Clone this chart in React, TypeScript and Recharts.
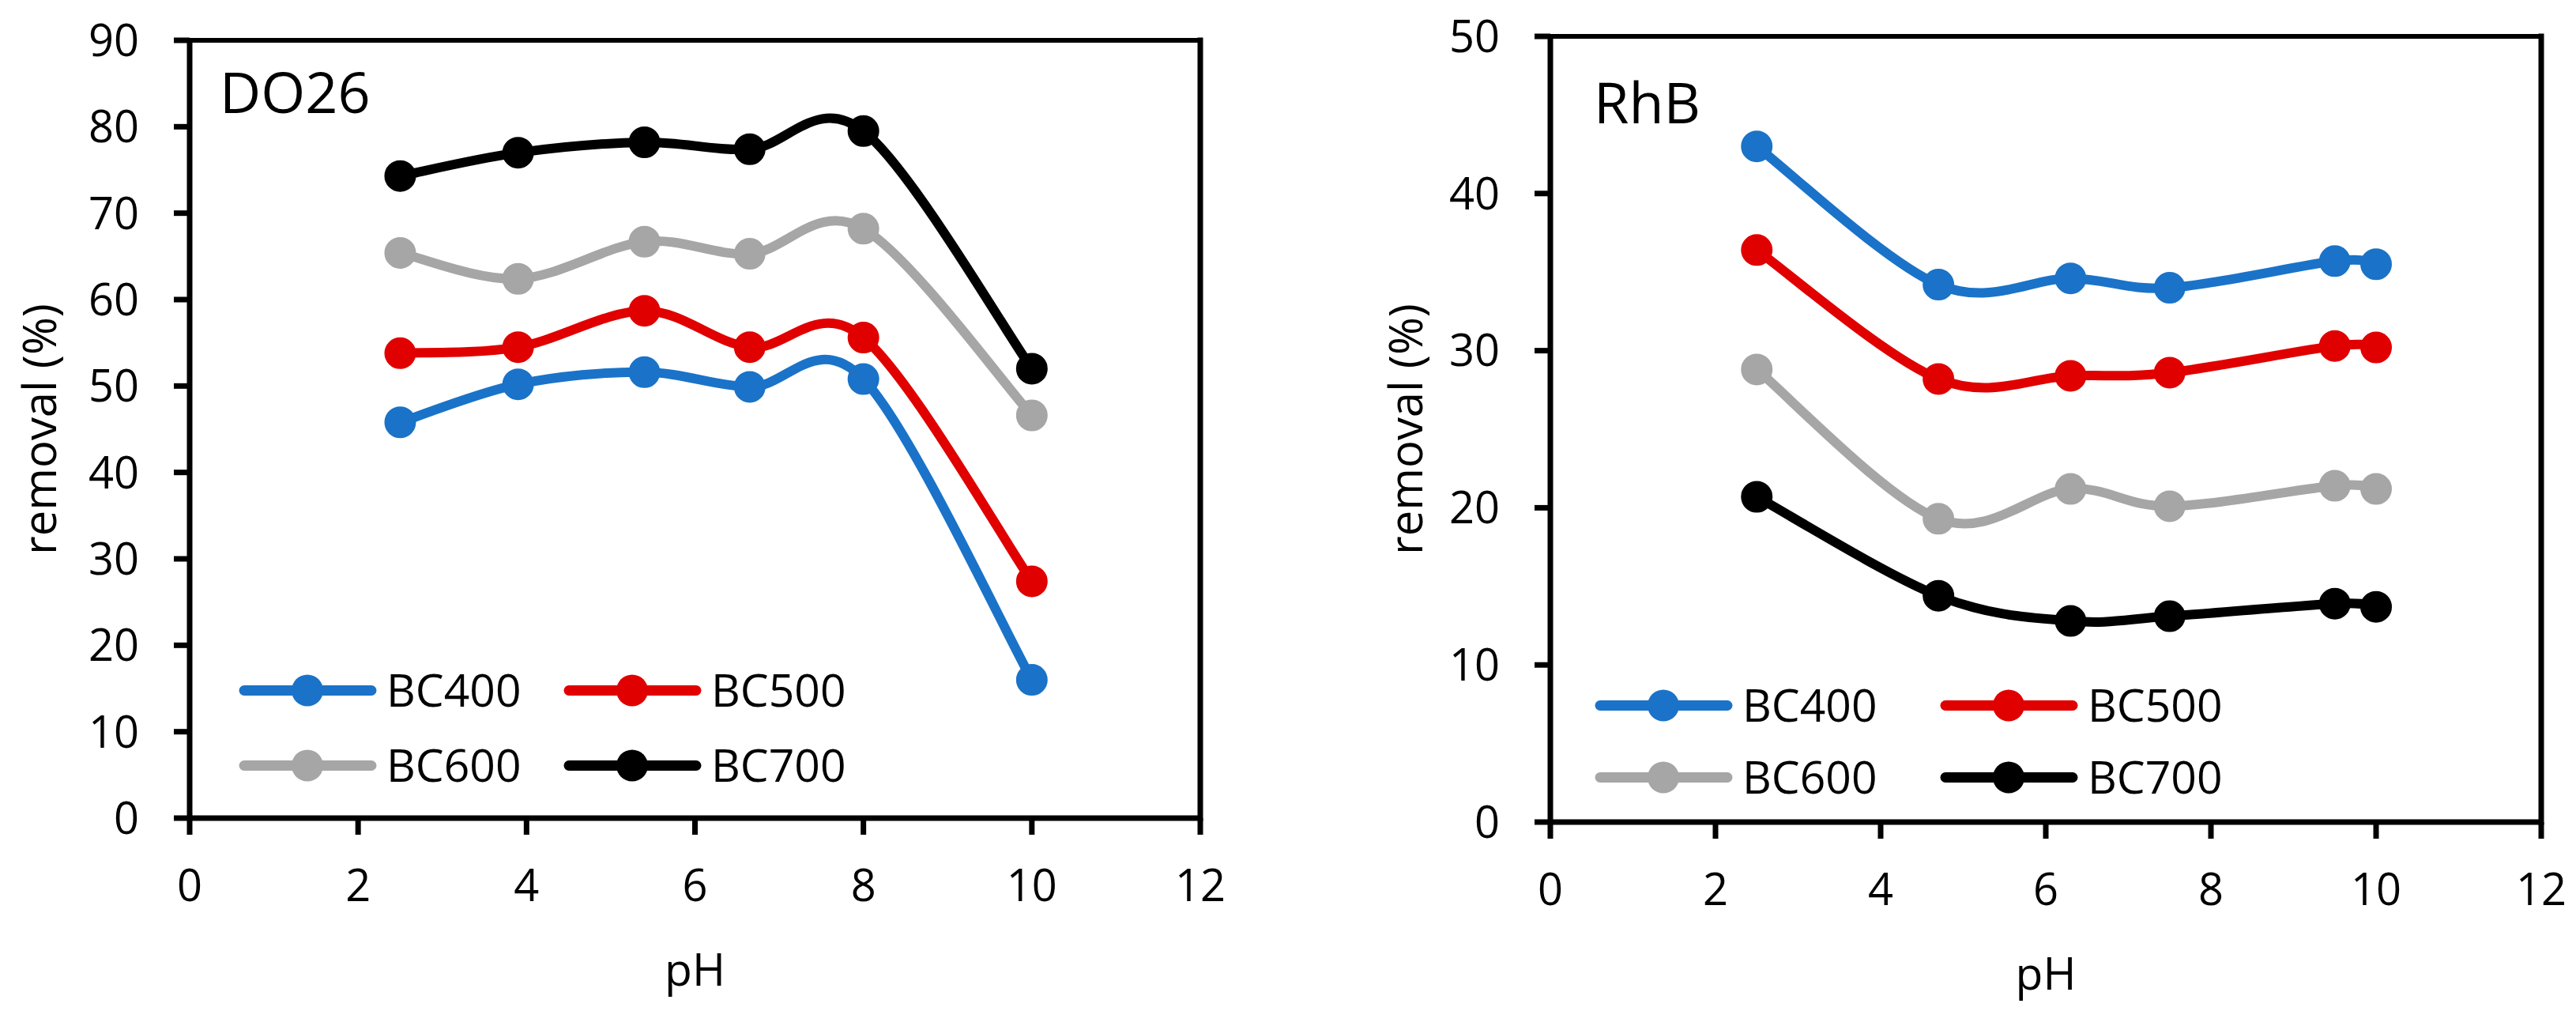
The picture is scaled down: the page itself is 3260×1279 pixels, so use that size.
import React from "react";
import { LineChart, Line, XAxis, YAxis, ReferenceLine, Legend } from "recharts";

const seriesNames = ["BC400", "BC500", "BC600", "BC700"];
const seriesColors = ["#1a73c8", "#e00000", "#a6a6a6", "#000000"];
const phTicks = [0, 2, 4, 6, 8, 10, 12];

// DO26 panel
const do26Ph = [2.5, 3.9, 5.4, 6.65, 8, 10];
const do26BC400 = [45.8, 50.2, 51.6, 49.9, 50.8, 16.0];
const do26BC500 = [53.8, 54.5, 58.7, 54.5, 55.6, 27.4];
const do26BC600 = [65.4, 62.4, 66.7, 65.3, 68.2, 46.6];
const do26BC700 = [74.3, 77.0, 78.2, 77.4, 79.5, 52.0];
const do26Ticks = [0, 10, 20, 30, 40, 50, 60, 70, 80, 90];

// RhB panel
const rhbPh = [2.5, 4.7, 6.3, 7.5, 9.5, 10];
const rhbBC400 = [43.0, 34.2, 34.6, 34.0, 35.7, 35.5];
const rhbBC500 = [36.4, 28.2, 28.4, 28.6, 30.3, 30.2];
const rhbBC600 = [28.8, 19.3, 21.2, 20.1, 21.4, 21.2];
const rhbBC700 = [20.7, 14.4, 12.8, 13.1, 13.9, 13.7];
const rhbTicks = [0, 10, 20, 30, 40, 50];

function toRows(ph: number[], series: number[][]) {
  return ph.map((p, i) => {
    const row: Record<string, number> = { ph: p };
    seriesNames.forEach((name, k) => (row[name] = series[k][i]));
    return row;
  });
}

const do26Rows = toRows(do26Ph, [do26BC400, do26BC500, do26BC600, do26BC700]);
const rhbRows = toRows(rhbPh, [rhbBC400, rhbBC500, rhbBC600, rhbBC700]);

// Excel-style smoothed line (Catmull-Rom as cubic bezier)
const excelSmooth = (context: any) => {
  let pts: number[][] = [];
  return {
    areaStart() {},
    areaEnd() {},
    lineStart() {
      pts = [];
    },
    point(x: number, y: number) {
      pts.push([+x, +y]);
    },
    lineEnd() {
      const n = pts.length;
      if (!n) return;
      context.moveTo(pts[0][0], pts[0][1]);
      for (let i = 0; i < n - 1; i++) {
        const p0 = pts[Math.max(i - 1, 0)];
        const p1 = pts[i];
        const p2 = pts[i + 1];
        const p3 = pts[Math.min(i + 2, n - 1)];
        context.bezierCurveTo(
          p1[0] + (p2[0] - p0[0]) / 6,
          p1[1] + (p2[1] - p0[1]) / 6,
          p2[0] - (p3[0] - p1[0]) / 6,
          p2[1] - (p3[1] - p1[1]) / 6,
          p2[0],
          p2[1]
        );
      }
    },
  };
};

const legendContent = (colGap: number, rowGap: number) => (props: any) => {
  const items = props.payload ?? [];
  return (
    <svg width={colGap * 2} height={rowGap * 2} style={{ display: "block", overflow: "visible" }}>
      {items.map((item: any, i: number) => {
        const x = (i % 2) * colGap;
        const y = Math.floor(i / 2) * rowGap + rowGap / 2;
        return (
          <g key={item.value}>
            <line x1={x + 6} x2={x + 167} y1={y} y2={y} stroke={item.color} strokeWidth={13} strokeLinecap="round" />
            <circle cx={x + 86} cy={y} r={20} fill={item.color} />
            <text x={x + 186} y={y} dy="0.36em" fontSize={57} fill="#000">
              {item.value}
            </text>
          </g>
        );
      })}
    </svg>
  );
};

type PanelProps = {
  rows: Record<string, number>[];
  yMax: number;
  yTicks: number[];
  title: string;
  titleX: number;
  titleY: number;
  margin: { top: number; right: number; bottom: number; left: number };
  yLabelOffset: number;
  xLabelOffset: number;
  legendLeft: number;
  legendTop: number;
  legendColGap: number;
  legendRowGap: number;
};

function Panel(p: PanelProps) {
  return (
    <LineChart width={1630} height={1279} data={p.rows} margin={p.margin}>
      <XAxis
        type="number"
        dataKey="ph"
        domain={[0, 12]}
        ticks={phTicks}
        interval={0}
        height={150}
        tickSize={21}
        tickMargin={44}
        tick={{ fontSize: 56, fill: "#000" }}
        axisLine={{ stroke: "#000", strokeWidth: 7 }}
        tickLine={{ stroke: "#000", strokeWidth: 7 }}
        label={{ value: "pH", position: "bottom", offset: p.xLabelOffset, fontSize: 57, fill: "#000" }}
      />
      <YAxis
        type="number"
        domain={[0, p.yMax]}
        ticks={p.yTicks}
        interval={0}
        width={180}
        tickSize={20}
        tickMargin={44}
        tick={{ fontSize: 56, fill: "#000" }}
        axisLine={{ stroke: "#000", strokeWidth: 7 }}
        tickLine={{ stroke: "#000", strokeWidth: 7 }}
        label={{
          value: "removal (%)",
          angle: -90,
          position: "insideLeft",
          offset: p.yLabelOffset,
          fontSize: 58,
          fill: "#000",
          style: { textAnchor: "middle" },
        }}
      />
      <ReferenceLine y={p.yMax} stroke="#000" strokeWidth={6} strokeLinecap="square" />
      <ReferenceLine x={12} stroke="#000" strokeWidth={7} strokeLinecap="square" />
      {seriesNames.map((name, k) => (
        <Line
          key={name}
          type={excelSmooth as any}
          dataKey={name}
          name={name}
          stroke={seriesColors[k]}
          strokeWidth={12}
          strokeLinecap="round"
          dot={{ r: 19, fill: seriesColors[k], stroke: seriesColors[k], strokeWidth: 2 }}
          activeDot={false}
          isAnimationActive={false}
        />
      ))}
      <Legend
        layout="horizontal"
        verticalAlign="middle"
        align="center"
        wrapperStyle={{
          left: p.legendLeft,
          top: p.legendTop,
          width: p.legendColGap * 2,
          height: p.legendRowGap * 2,
        }}
        content={legendContent(p.legendColGap, p.legendRowGap)}
      />
      <text x={p.titleX} y={p.titleY} fontSize={72} fill="#000">
        {p.title}
      </text>
    </LineChart>
  );
}

export default function App() {
  return (
    <div
      style={{
        position: "absolute",
        left: 0,
        top: 0,
        width: 3260,
        height: 1279,
        display: "flex",
        background: "#fff",
        fontFamily: '"Open Sans", sans-serif',
      }}
    >
      <Panel
        rows={do26Rows}
        yMax={90}
        yTicks={do26Ticks}
        title="DO26"
        titleX={278}
        titleY={143}
        margin={{ top: 51, right: 111, bottom: 94, left: 60 }}
        yLabelOffset={-10}
        xLabelOffset={22}
        legendLeft={303}
        legendTop={826}
        legendColGap={411}
        legendRowGap={95}
      />
      <Panel
        rows={rhbRows}
        yMax={50}
        yTicks={rhbTicks}
        title="RhB"
        titleX={387}
        titleY={156}
        margin={{ top: 46, right: 44, bottom: 89, left: 152 }}
        yLabelOffset={-3}
        xLabelOffset={22}
        legendLeft={389}
        legendTop={847}
        legendColGap={437}
        legendRowGap={91}
      />
    </div>
  );
}
